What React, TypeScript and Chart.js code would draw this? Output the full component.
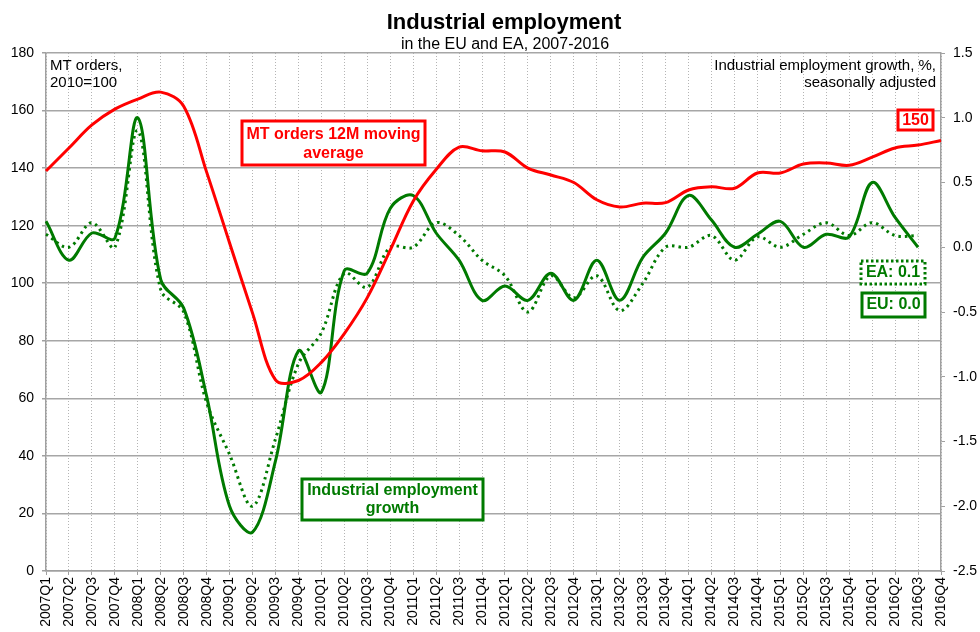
import React, { useEffect, useRef } from "react";
import { Chart, registerables } from "chart.js";

Chart.register(...registerables);

const quarters: string[] = [
  "2007Q1", "2007Q2", "2007Q3", "2007Q4",
  "2008Q1", "2008Q2", "2008Q3", "2008Q4",
  "2009Q1", "2009Q2", "2009Q3", "2009Q4",
  "2010Q1", "2010Q2", "2010Q3", "2010Q4",
  "2011Q1", "2011Q2", "2011Q3", "2011Q4",
  "2012Q1", "2012Q2", "2012Q3", "2012Q4",
  "2013Q1", "2013Q2", "2013Q3", "2013Q4",
  "2014Q1", "2014Q2", "2014Q3", "2014Q4",
  "2015Q1", "2015Q2", "2015Q3", "2015Q4",
  "2016Q1", "2016Q2", "2016Q3", "2016Q4",
];

// MT orders 12M moving average, 2010=100 (left axis)
const mtOrders: number[] = [
  139, 147, 155, 160.5,
  164, 166.4, 161.5, 138.6,
  114, 89.6, 66.4, 66.2,
  72.5, 82.5, 95, 111.5,
  128.5, 139.5, 147.3, 146,
  145.6, 140, 137.6, 135,
  129, 126.5, 127.8, 128,
  132.4, 133.5, 133, 138.3,
  138.3, 141.4, 141.8, 141,
  143.8, 147, 148, 149.6,
];

// Industrial employment growth, %, EU (right axis)
const euGrowth: (number | null)[] = [
  0.2, -0.1, 0.11, 0.07,
  1.0, -0.25, -0.47, -1.15,
  -2.0, -2.2, -1.65, -0.8,
  -1.12, -0.18, -0.2, 0.3,
  0.4, 0.11, -0.1, -0.41,
  -0.3, -0.41, -0.2, -0.41,
  -0.1, -0.41, -0.08, 0.11,
  0.4, 0.21, 0.0, 0.1,
  0.2, 0.0, 0.1, 0.08,
  0.5, 0.23, 0.0, null,
];

// Industrial employment growth, %, EA (right axis)
const eaGrowth: (number | null)[] = [
  0.1, 0.0, 0.19, 0.0,
  0.9, -0.33, -0.5, -1.2,
  -1.6, -2.0, -1.48, -0.9,
  -0.66, -0.2, -0.31, 0.0,
  0.0, 0.19, 0.09, -0.1,
  -0.22, -0.5, -0.22, -0.39,
  -0.22, -0.49, -0.28, 0.0,
  0.0, 0.09, -0.1, 0.08,
  0.0, 0.1, 0.19, 0.09,
  0.19, 0.09, 0.09, null,
];

const leftTicks = { min: 0, max: 180, step: 20 };
const rightTicks = { min: -2.5, max: 1.5, step: 0.5 };

const FONT = '"Liberation Sans", Arial, Helvetica, sans-serif';
const RED = "#ff0000";
const GREEN = "#007a00";

function box(
  ctx: CanvasRenderingContext2D,
  x: number, y: number, w: number, h: number,
  color: string, lines: string[], dashed: boolean,
  lineYs: number[]
) {
  ctx.save();
  ctx.fillStyle = "#ffffff";
  ctx.fillRect(x, y, w, h);
  ctx.strokeStyle = color;
  ctx.lineWidth = 3;
  if (dashed) ctx.setLineDash([2.5, 2.5]);
  ctx.strokeRect(x, y, w, h);
  ctx.setLineDash([]);
  ctx.fillStyle = color;
  ctx.font = `bold 16px ${FONT}`;
  ctx.textAlign = "center";
  ctx.textBaseline = "middle";
  lines.forEach((t, i) => ctx.fillText(t, x + w / 2, lineYs[i]));
  ctx.restore();
}

const overlayPlugin = {
  id: "overlay",
  afterDraw(chart: any) {
    const ctx: CanvasRenderingContext2D = chart.ctx;
    ctx.save();
    ctx.fillStyle = "#000";
    ctx.textAlign = "center";
    ctx.textBaseline = "alphabetic";
    ctx.font = `bold 22px ${FONT}`;
    ctx.fillText("Industrial employment", 504, 29);
    ctx.font = `16px ${FONT}`;
    ctx.fillText("in the EU and EA, 2007-2016", 505, 49);

    ctx.font = `15px ${FONT}`;
    ctx.textAlign = "left";
    ctx.fillText("MT orders,", 50, 70);
    ctx.fillText("2010=100", 50, 87);
    ctx.textAlign = "right";
    ctx.fillText("Industrial employment growth, %,", 936, 70);
    ctx.fillText("seasonally adjusted", 936, 87);
    ctx.restore();

    box(ctx, 242, 121, 183, 44, RED, ["MT orders 12M moving", "average"], false, [135, 154]);
    box(ctx, 302, 479, 181, 41, GREEN, ["Industrial employment", "growth"], false, [491, 509]);
    box(ctx, 898, 110, 35, 20, RED, ["150"], false, [121]);
    box(ctx, 861, 261, 64, 23, GREEN, ["EA: 0.1"], true, [273]);
    box(ctx, 862, 293, 63, 24, GREEN, ["EU: 0.0"], false, [305]);
  },
};

export default function App() {
  const ref = useRef<HTMLCanvasElement>(null);

  useEffect(() => {
    document.body.style.margin = "0";
    if (!ref.current) return;
    const chart = new Chart(ref.current, {
      type: "line",
      data: {
        labels: quarters,
        datasets: [
          {
            label: "MT orders 12M moving average",
            data: mtOrders,
            yAxisID: "y",
            borderColor: RED,
            borderWidth: 3,
            pointRadius: 0,
            tension: 0.35,
            fill: false,
          },
          {
            label: "EU",
            data: euGrowth,
            yAxisID: "y1",
            borderColor: GREEN,
            borderWidth: 3,
            pointRadius: 0,
            tension: 0.35,
            fill: false,
          },
          {
            label: "EA",
            data: eaGrowth,
            yAxisID: "y1",
            borderColor: GREEN,
            borderWidth: 3,
            borderDash: [2.5, 4],
            pointRadius: 0,
            tension: 0.35,
            fill: false,
          },
        ],
      },
      options: {
        responsive: false,
        animation: false,
        devicePixelRatio: 1,
        layout: { padding: { top: 53, left: 0, right: 0, bottom: 0 } },
        plugins: {
          legend: { display: false },
          title: { display: false },
          tooltip: { enabled: false },
        },
        scales: {
          x: {
            type: "category",
            offset: false,
            grid: {
              color: "#b4b4b4",
              lineWidth: 1,
              tickLength: 4,
              tickColor: "#a0a0a0",
              tickWidth: 1,
            },
            border: { display: true, color: "#a0a0a0", width: 1.5, dash: [1, 2] },
            ticks: {
              autoSkip: false,
              maxRotation: 90,
              minRotation: 90,
              padding: 2,
              color: "#000",
              font: { family: FONT, size: 14 },
            },
            afterFit: (s: any) => {
              s.height = 61;
            },
          },
          y: {
            position: "left",
            min: leftTicks.min,
            max: leftTicks.max,
            ticks: {
              stepSize: leftTicks.step,
              color: "#000",
              padding: 8,
              font: { family: FONT, size: 14 },
            },
            grid: {
              color: "#a6a6a6",
              lineWidth: 1.5,
              tickLength: 4,
              tickColor: "#a0a0a0",
            },
            border: { display: true, color: "#a0a0a0", width: 1.5 },
            afterFit: (s: any) => {
              s.width = 46;
            },
          },
          y1: {
            position: "right",
            min: rightTicks.min,
            max: rightTicks.max,
            ticks: {
              stepSize: rightTicks.step,
              color: "#000",
              padding: 8,
              font: { family: FONT, size: 14 },
              callback: (v: any) => Number(v).toFixed(1),
            },
            grid: {
              drawOnChartArea: false,
              tickLength: 4,
              color: "#a0a0a0",
            },
            border: { display: true, color: "#a0a0a0", width: 1.5 },
            afterFit: (s: any) => {
              s.width = 39;
            },
          },
        },
      },
      plugins: [overlayPlugin],
    });
    return () => chart.destroy();
  }, []);

  return (
    <div style={{ width: 980, height: 632, background: "#fff" }}>
      <canvas ref={ref} width={980} height={632} />
    </div>
  );
}
